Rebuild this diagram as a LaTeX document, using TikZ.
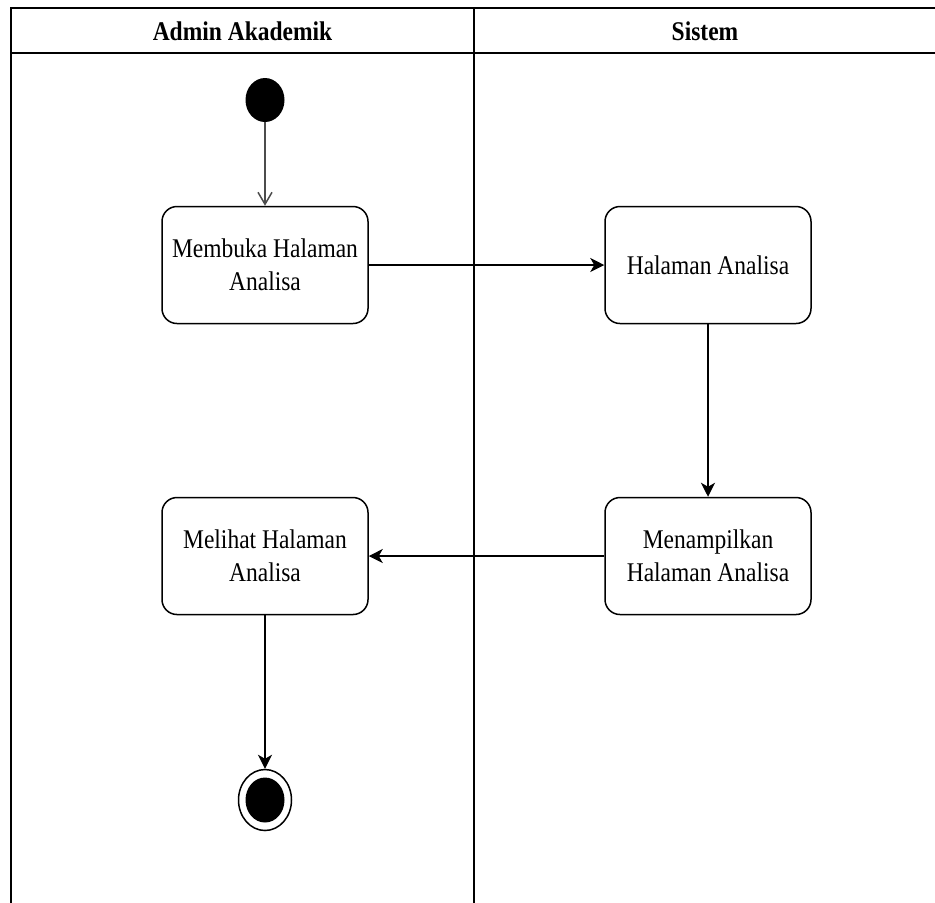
\documentclass[tikz,border=0pt]{standalone}
\usepackage{fontspec}
\setmainfont{Liberation Serif}[FakeStretch=0.87]
\usetikzlibrary{arrows.meta,shapes.geometric}

\tikzset{
    activity/.style = {draw, line width=0.75pt, rounded corners=7.5pt,
        minimum width=103pt, minimum height=58.5pt, align=center,
        font=\fontsize{13.5}{16.5}\selectfont},
    lanehead/.style = {font=\fontsize{13.5}{16.5}\selectfont\bfseries},
    flow/.style = {draw, line width=0.75pt, -{Stealth[length=7pt, width=7pt, inset=2pt]}},
    openflow/.style = {draw, line width=0.75pt, black!70, -{Straight Barb[length=6pt, width=7pt]}},
}

\begin{document}
\begin{tikzpicture}[x=0.5pt, y=-0.5pt]

    \useasboundingbox (0, 0) rectangle (935, 902);
    \clip (0, 0) rectangle (935, 902);

    % Swimlanes
    \draw[line width=1pt] (11, 910) -- (11, 8) -- (945, 8);
    \draw[line width=1pt] (11, 53) -- (945, 53);
    \draw[line width=1pt] (474, 8) -- (474, 910);
    \node[lanehead] (laneA) at (242.5, 31) {Admin Akademik};
    \node[lanehead] (laneS) at (705, 31) {Sistem};

    % Start and end
    \node[ellipse, fill=black, minimum width=19.5pt, minimum height=22pt, inner sep=0pt] (mulai) at (265, 100) {};
    \node[ellipse, draw, line width=0.75pt, minimum width=26.5pt, minimum height=30.5pt, inner sep=0pt] (akhir) at (265, 800) {};
    \node[ellipse, fill=black, minimum width=19.5pt, minimum height=22.5pt, inner sep=0pt] (akhirIsi) at (265, 800) {};

    % Activities
    \node[activity] (membuka) at (265, 265) {Membuka Halaman\\Analisa};
    \node[activity] (halaman) at (708, 265) {Halaman Analisa};
    \node[activity] (menampilkan) at (708, 556) {Menampilkan\\Halaman Analisa};
    \node[activity] (melihat) at (265, 556) {Melihat Halaman\\Analisa};

    % Flows
    \draw[openflow] (mulai) -- (membuka);
    \draw[flow] (membuka) -- (halaman);
    \draw[flow] (halaman) -- (menampilkan);
    \draw[flow] (menampilkan) -- (melihat);
    \draw[flow] (melihat) -- (akhir);

\end{tikzpicture}
\end{document}
